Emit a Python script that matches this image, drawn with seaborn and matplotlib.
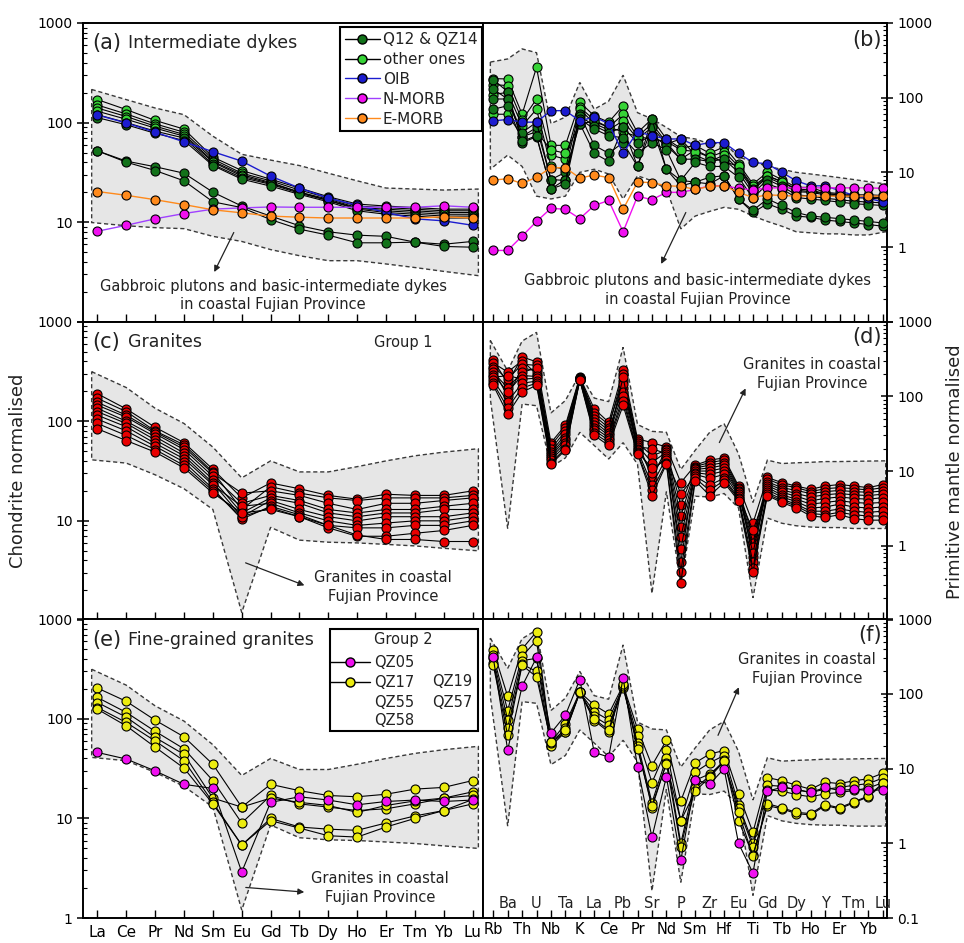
import matplotlib
matplotlib.use("Agg")
import matplotlib.pyplot as plt
import matplotlib.transforms as mtransforms
import numpy as np
import pandas as pd
import seaborn as sns
from matplotlib.lines import Line2D
from matplotlib.patches import Rectangle
from matplotlib.ticker import FixedFormatter, FixedLocator, LogLocator, NullFormatter

sns.set_theme(style="ticks")
plt.rcParams["font.family"] = ["DejaVu Sans"]
plt.rcParams["axes.edgecolor"] = "black"
plt.rcParams["xtick.color"] = "black"
plt.rcParams["ytick.color"] = "black"
plt.rcParams["text.color"] = "#222222"

# elements on the x axes
REE = ["La", "Ce", "Pr", "Nd", "Sm", "Eu", "Gd", "Tb", "Dy", "Ho", "Er", "Tm", "Yb", "Lu"]
SPIDER = ["Rb", "Ba", "Th", "U", "Nb", "Ta", "K", "La", "Ce", "Pb", "Pr", "Sr", "Nd", "P",
          "Sm", "Zr", "Hf", "Eu", "Ti", "Gd", "Tb", "Dy", "Ho", "Y", "Er", "Tm", "Yb", "Lu"]

# reference basalts (chondrite / primitive mantle normalised)
OIB_REE = [119, 99, 80, 64, 51, 41, 29, 22, 17.4, 14.8, 12.5, 10.8, 10.3, 9.3]
NMORB_REE = [8.1, 9.3, 10.8, 12.2, 13.5, 13.9, 14.2, 14.1, 14.1, 14.1, 14.1, 14.1, 14.6, 14.1]
EMORB_REE = [20.3, 18.6, 16.8, 15.0, 13.3, 12.4, 11.5, 11.2, 11.0, 11.0, 11.0, 11.0, 11.3, 11.0]
OIB_PM = [49, 51, 47, 47, 67, 67, 49, 55, 45, 18, 35, 31, 28, 28, 23, 25, 25, 18, 13.6, 13,
          10, 7.7, 6.6, 6.6, 5.7, 4.9, 4.5, 4.0]
NMORB_PM = [0.9, 0.9, 1.4, 2.2, 3.3, 3.2, 2.4, 3.6, 4.2, 1.6, 4.8, 4.3, 5.4, 5.4, 5.9, 6.6,
            6.6, 6.1, 5.8, 6.2, 6.2, 6.2, 6.2, 6.2, 6.2, 6.2, 6.2, 6.1]
EMORB_PM = [7.9, 8.2, 7.1, 8.6, 11.6, 11.5, 8.4, 9.2, 8.5, 3.2, 7.4, 7.3, 6.6, 6.5, 5.9, 6.5,
            6.6, 5.4, 4.6, 5.0, 4.9, 4.8, 4.8, 4.8, 4.8, 4.8, 4.8, 4.8]

# fields (upper / lower bounds)
GABBRO_REE_UP = [215, 170, 140, 120, 73, 48, 42, 37, 31, 26, 22, 21.5, 21, 21.5]
GABBRO_REE_LO = [9.9, 9.2, 8.8, 8.6, 7.2, 6.4, 5.3, 4.6, 4.1, 4.1, 3.8, 3.5, 3.2, 2.9]
GABBRO_PM_UP = [300, 330, 450, 400, 45, 55, 160, 70, 90, 200, 63, 52, 40, 30, 28, 24, 25, 16,
                14, 12, 11, 10, 9.5, 9, 8.5, 8, 7.5, 7.0]
GABBRO_PM_LO = [11, 17, 12, 4.8, 4.4, 4.8, 10, 11, 9.5, 4.4, 9, 7.7, 6, 1.75, 2.6, 3.0, 3.4,
                3.2, 2.6, 2.2, 1.9, 1.6, 1.55, 1.5, 1.5, 1.45, 1.45, 1.6]
GRANITE_REE_UP = [315, 218, 135, 95, 55, 27, 40, 31, 31, 35, 40, 45, 49, 53]
GRANITE_REE_LO = [41, 38, 29, 21, 13, 1.2, 8.6, 6.4, 6.1, 6.0, 5.8, 5.6, 5.3, 5.0]
GRANITE_PM_UP = [560, 220, 550, 720, 60, 88, 200, 95, 85, 455, 42, 34, 33, 10.5, 19, 33, 43,
                 17, 3.8, 14, 12.6, 12.9, 13.1, 13.4, 13.4, 13.5, 13.6, 13.7]
GRANITE_PM_LO = [92, 1.7, 79, 75, 11.3, 15, 33, 22, 14.5, 24, 12.3, 0.23, 5.3, 0.3, 4.6, 4.5,
                 5, 3.2, 0.2, 2.35, 2.0, 1.85, 1.78, 1.75, 1.75, 1.7, 1.7, 1.7]

# (a)/(b) intermediate dykes
DYKE_Q_REE = {
    "Q1": [52, 41, 36, 31, 20, 14.5, 11.5, 9.2, 8.0, 7.4, 7.2, 6.3, 6.0, 6.4],
    "Q2": [52, 40, 33, 26, 16, 14, 10.6, 8.5, 7.4, 6.2, 6.2, 6.3, 5.7, 5.6],
    "Q3": [120, 100, 82, 70, 38, 28, 24, 19.5, 16.5, 13.5, 12.5, 12, 11.5, 11.5],
    "Q4": [112, 95, 78, 66, 37, 27, 23, 19, 16, 13, 12, 11.5, 11, 11],
}
DYKE_O_REE = {
    "O1": [170, 135, 105, 86, 45, 33, 27, 22, 18, 15.2, 14.5, 14, 13.5, 13.5],
    "O2": [150, 122, 97, 80, 43, 31, 26, 21, 17.5, 14.5, 14, 13.5, 13, 13],
    "O3": [140, 115, 92, 76, 41, 30, 25, 20, 17, 14, 13.5, 13, 12.5, 12.5],
    "O4": [130, 108, 88, 73, 40, 29, 24.5, 20, 16.5, 13.8, 13, 12.5, 12, 12],
}
DYKE_Q_PM = {
    "Q1": [175, 120, 25, 30, 6, 8, 60, 23, 18, 25, 12, 40, 11, 6.6, 7.4, 7, 9, 4.4, 2.9, 3.8,
           3.2, 2.6, 2.5, 2.3, 2.2, 2.1, 2.0, 1.9],
    "Q2": [130, 96, 30, 40, 8, 10, 45, 18, 14, 40, 12, 52, 11, 7.8, 7.4, 8.6, 9, 4.4, 3.1, 4.4,
           3.6, 2.9, 2.6, 2.5, 2.4, 2.3, 2.2, 2.1],
    "Q3": [96, 96, 34, 47, 8, 7.8, 57, 42, 34, 40, 25, 31, 23, 15, 15, 14, 15, 10, 5.2, 8, 6.5,
           5.0, 4.8, 4.5, 4.3, 4.1, 4.0, 3.9],
    "Q4": [70, 78, 26, 31, 6, 7, 52, 38, 31, 29, 18, 25, 20, 7.8, 13.6, 12, 12, 8.6, 4.5, 7, 6,
           4.6, 4.4, 4.2, 4.0, 3.8, 3.7, 3.6],
}
DYKE_O_PM = {
    "O1": [180, 178, 60, 255, 23, 23, 87, 57, 47, 78, 34, 52, 28, 21, 23, 18, 22, 13, 7, 10, 8,
           6.3, 6.3, 5.4, 5.2, 5.0, 5.0, 4.9],
    "O2": [150, 145, 50, 96, 17, 15, 75, 50, 40, 60, 30, 45, 25, 15, 20, 16, 19, 12, 6.5, 9, 7.5,
           6.0, 5.8, 5.2, 5.0, 4.8, 4.7, 4.6],
    "O3": [110, 118, 42, 70, 12, 11, 70, 45, 37, 49, 28, 40, 24, 28, 17, 14, 17, 11, 5.8, 8.6, 7,
           5.5, 5.4, 5.0, 4.8, 4.6, 4.5, 4.4],
    "O4": [60, 60, 30, 35, 20, 18, 45, 48, 40, 35, 30, 28, 26, 20, 19, 16, 14, 12, 6, 9, 7.5,
           5.8, 5.5, 5.2, 5.0, 4.8, 4.7, 4.6],
}

# (c)/(d) granites, group 1
GRANITE1_REE = {
    "G01": [189, 133, 87, 61, 33, 17, 24, 21, 18, 16.5, 18.5, 18, 18, 20],
    "G02": [170, 125, 80, 58, 31, 13, 22, 19, 17, 16, 17, 17, 17, 18],
    "G03": [155, 115, 78, 55, 30, 19, 20, 18, 15, 13, 15, 15, 16, 17],
    "G04": [145, 110, 75, 52, 28, 15, 18, 16, 13, 12, 13, 13, 14, 15],
    "G05": [135, 100, 70, 48, 26, 12, 17, 15, 12, 11, 12, 12, 13, 13],
    "G06": [125, 95, 65, 45, 24, 11, 16, 13, 11, 10, 11, 11, 11, 12],
    "G07": [115, 88, 60, 42, 23, 14, 15, 12, 10, 9, 9.5, 10, 10, 11],
    "G08": [105, 80, 56, 39, 21, 10.4, 14, 11.5, 9, 8.5, 8.5, 9, 9, 10],
    "G09": [95, 72, 52, 36, 20, 11, 13.5, 11, 8.5, 7, 7, 7.5, 8, 9],
    "G10": [84, 64, 49, 34, 19, 12, 13, 11, 9, 7.2, 6.5, 6.5, 6.2, 6.2],
}
GRANITE1_PM = {
    "G01": [305, 150, 338, 290, 24, 41, 182, 68, 45, 224, 27, 24, 21, 7.0, 12, 14, 15, 6.3, 2.0,
            8.2, 7.0, 6.3, 5.7, 6.3, 6.6, 6.3, 6.0, 6.6],
    "G02": [280, 212, 300, 200, 22, 38, 178, 60, 42, 160, 25, 8, 20, 0.6, 11.5, 13, 14, 6.0, 0.7,
            7.8, 6.5, 6.0, 5.3, 5.8, 6.0, 5.8, 5.6, 6.0],
    "G03": [250, 170, 270, 260, 20, 34, 176, 55, 38, 200, 24, 16, 19, 3.5, 11, 12, 13, 5.7, 1.3,
            7.2, 6.0, 5.5, 5.0, 5.3, 5.5, 5.3, 5.2, 5.4],
    "G04": [230, 100, 240, 220, 18, 31, 175, 50, 35, 130, 22, 13, 18, 2.5, 10.5, 11, 12, 5.4, 1.1,
            6.8, 5.6, 5.0, 4.5, 4.8, 5.0, 4.8, 4.7, 4.9],
    "G05": [210, 130, 210, 240, 17, 28, 174, 46, 32, 145, 21, 20, 17, 1.8, 10, 10, 11, 5.2, 0.95,
            6.4, 5.2, 4.6, 4.0, 4.3, 4.5, 4.3, 4.2, 4.4],
    "G06": [195, 115, 190, 185, 16, 26, 172, 42, 30, 115, 20, 9.5, 16, 1.3, 9.5, 9, 10, 5.0, 0.8,
            6.0, 4.8, 4.2, 3.6, 3.8, 4.0, 3.8, 3.7, 3.8],
    "G07": [180, 190, 170, 175, 15, 24, 170, 38, 28, 180, 19, 6.5, 15, 0.9, 9, 8, 9, 4.7, 1.6,
            5.6, 4.5, 3.9, 3.2, 3.3, 3.6, 3.3, 3.2, 3.3],
    "G08": [165, 85, 150, 160, 14, 22, 168, 35, 26, 100, 18, 11, 14, 5.0, 8.5, 6.5, 8, 4.4, 0.6,
            5.2, 4.2, 3.6, 2.9, 2.9, 3.1, 2.9, 2.8, 2.9],
    "G09": [150, 70, 130, 150, 13, 20, 166, 32, 24, 88, 17.5, 5.5, 13, 0.45, 8, 5.5, 7.5, 4.2, 0.5,
            4.9, 4.0, 3.4, 2.7, 2.6, 2.8, 2.6, 2.5, 2.5],
    "G10": [141, 58, 114, 141, 12.4, 19, 164, 30, 22, 76, 17, 4.7, 12.4, 0.32, 7.4, 4.7, 7.0, 4.0,
            0.44, 4.7, 3.8, 3.2, 2.5, 2.4, 2.6, 2.3, 2.2, 2.2],
}

# (e)/(f) fine-grained granites, group 2
QZ05_REE = {"QZ05": [46, 39.5, 30, 22, 20, 2.9, 14.5, 16.5, 15.3, 13.7, 14.8, 15.3, 14.8, 15.3]}
GROUP2_REE = {
    "QZ17": [204, 150, 97, 66, 35, 13, 22, 19, 17, 16.5, 17.5, 19.7, 20.5, 24],
    "QZ19": [164, 116, 75, 50, 24, 9, 17, 14, 13, 12, 12.5, 14, 16, 18.5],
    "QZ55": [146, 104, 65, 44, 16, 13, 16, 14.5, 13.5, 11.5, 13.5, 15, 16, 17],
    "QZ57": [130, 92, 60, 38, 14.5, 5.4, 10, 8.2, 7.8, 7.6, 9, 10.6, 12, 15.5],
    "QZ58": [125, 85, 52, 32, 14, 5.4, 9.5, 8, 6.7, 6.5, 8.2, 10, 12, 14],
}
QZ05_PM = {"QZ05": [308, 17.8, 127, 308, 30, 52, 156, 16.5, 14.3, 164, 10.6, 1.2, 7.8, 0.59,
                    7.1, 6.2, 10, 1.0, 0.4, 5, 5.6, 5.3, 4.8, 5.6, 5.1, 5.3, 5.1, 5.2]}
GROUP2_PM = {
    "QZ17": [387, 93, 400, 683, 22.6, 40, 106, 71, 54, 131, 34, 11, 24, 3.7, 12, 15.7, 17.5, 4.6,
             1.4, 7.6, 6.9, 6.0, 5.3, 6.6, 6.3, 6.9, 7.3, 8.7],
    "QZ19": [330, 60, 320, 520, 21, 35, 105, 58, 45, 125, 27, 6.5, 18, 2.0, 9, 12, 15, 3.3, 1.0,
             6.0, 5.8, 5.2, 4.8, 5.3, 5.6, 6.0, 6.3, 7.5],
    "QZ55": [300, 45, 280, 300, 20, 31, 104, 50, 38, 120, 22, 3.5, 14, 1.0, 7, 8.5, 12.2, 3.0,
             0.9, 5.2, 5.0, 4.5, 4.2, 4.6, 4.8, 5.1, 5.5, 6.5],
    "QZ57": [260, 35, 250, 200, 22, 31, 106, 44, 31, 128, 20, 3.0, 12, 0.9, 5.5, 8, 13, 2.0, 0.7,
             3.2, 2.9, 2.5, 2.4, 3.2, 2.9, 3.5, 4.2, 6.2],
    "QZ58": [243, 28, 243, 169, 23, 33, 107, 46, 33, 135, 18.5, 3.2, 11.6, 2.0, 5, 7.7, 12.5, 2.6,
             0.67, 3.4, 3.0, 2.6, 2.5, 3.3, 3.0, 3.6, 4.3, 6.4],
}

DARK_GREEN = "#12721a"
LIGHT_GREEN = "#36d336"
BLUE = "#1c1ccf"
MAGENTA = "#f010f0"
VIOLET = "#a040ff"
ORANGE = "#ff8a1c"
RED = "#e80000"
YELLOW = "#ecec10"
FIELD_PAD = 0.2


def long_table(samples):
    rows = []
    for name, vals in samples.items():
        for i, v in enumerate(vals):
            rows.append({"sample": name, "pos": i, "value": v})
    return pd.DataFrame(rows)


def draw_series(ax, samples, face, line_color="black", lw=0.8, ms=6.5, z=3):
    df = long_table(samples)
    sns.lineplot(data=df, x="pos", y="value", units="sample", estimator=None, sort=False,
                 color=line_color, linewidth=lw, marker="o", markersize=ms,
                 markerfacecolor=face, markeredgecolor="black", markeredgewidth=0.8,
                 legend=False, ax=ax, zorder=z)
    ax.set_xlabel("")
    ax.set_ylabel("")


def draw_field(ax, upper, lower):
    x = np.arange(len(upper), dtype=float)
    x[0] -= FIELD_PAD
    x[-1] += FIELD_PAD
    xs = np.concatenate([x, x[::-1]])
    ys = np.concatenate([upper, lower[::-1]])
    ax.fill(xs, ys, facecolor="#e6e6e6", edgecolor="#3a3a3a", linestyle=(0, (3, 2)),
            linewidth=1.0, zorder=1)


def setup_axes(ax, right, bottom_labels):
    ax.set_yscale("log")
    if right:
        ax.set_xlim(-0.71, 27.29)
        ax.set_ylim(0.1, 1000)
        ticks = [0.1, 1, 10, 100, 1000]
        labels = ["0.1" if bottom_labels else "", "1", "10", "100", "1000"]
        ax.yaxis.tick_right()
        n = len(SPIDER)
    else:
        ax.set_xlim(-0.5, 13.36)
        ax.set_ylim(1, 1000)
        ticks = [1, 10, 100, 1000]
        labels = ["1" if bottom_labels else "", "10", "100", "1000"]
        n = len(REE)
    ax.yaxis.set_major_locator(FixedLocator(ticks))
    ax.yaxis.set_major_formatter(FixedFormatter(labels))
    ax.yaxis.set_minor_locator(LogLocator(base=10, subs=np.arange(2, 10)))
    ax.yaxis.set_minor_formatter(NullFormatter())
    ax.tick_params(axis="y", which="major", direction="inout", length=9, width=1.1,
                   labelsize=10, pad=3)
    ax.tick_params(axis="y", which="minor", direction="in", length=3, width=0.8)
    ax.xaxis.set_major_locator(FixedLocator(range(n)))
    ax.tick_params(axis="x", which="major", direction="in", length=6, width=1.0,
                   bottom=True, top=False, labelbottom=bottom_labels, labelsize=10.5)
    ax.xaxis.set_minor_locator(FixedLocator([]))
    for s in ax.spines.values():
        s.set_linewidth(1.4)
        s.set_color("black")
    if bottom_labels:
        if right:
            ax.set_xticklabels([el if i % 2 == 0 else "" for i, el in enumerate(SPIDER)])
            ax.tick_params(axis="x", pad=3)
            trans = mtransforms.blended_transform_factory(ax.transData, ax.transAxes)
            for i in range(1, n, 2):
                ax.text(i, 0.035, SPIDER[i], transform=trans, ha="center", va="baseline",
                        fontsize=10.5)
        else:
            ax.set_xticklabels(REE)
            ax.tick_params(axis="x", pad=5, labelsize=11)


def frame(x0, y0, w, h):
    return [x0 / 964, 1 - (y0 + h) / 943, w / 964, h / 943]


def note(ax, text, pos, tail, head):
    ax.text(pos[0], pos[1], text, transform=ax.transAxes, ha="center", va="center",
            fontsize=10.5, linespacing=1.3)
    ax.annotate("", xy=head, xytext=tail, xycoords="axes fraction",
                arrowprops=dict(arrowstyle="-|>", color="#222222", lw=0.9, mutation_scale=9))


def title(ax, letter, text):
    ax.text(0.022, 0.932, letter, transform=ax.transAxes, fontsize=15, va="center", ha="left")
    ax.text(0.112, 0.932, text, transform=ax.transAxes, fontsize=12.5, va="center", ha="left")


fig = plt.figure(figsize=(9.64, 9.43), dpi=100)
ROW_TOPS = [23, 321.7, 619.3]
ROW_H = 298.7
axes = {}
for r, top in enumerate(ROW_TOPS):
    axes[(r, 0)] = fig.add_axes(frame(83, top, 400, ROW_H))
    axes[(r, 1)] = fig.add_axes(frame(483, top, 404, ROW_H))

for (r, c), ax in axes.items():
    setup_axes(ax, right=(c == 1), bottom_labels=(r == 2))

# (a) intermediate dykes, REE
ax = axes[(0, 0)]
draw_field(ax, GABBRO_REE_UP, GABBRO_REE_LO)
draw_series(ax, DYKE_O_REE, LIGHT_GREEN)
draw_series(ax, DYKE_Q_REE, DARK_GREEN)
draw_series(ax, {"OIB": OIB_REE}, BLUE, line_color=BLUE, lw=1.0, z=4)
draw_series(ax, {"N-MORB": NMORB_REE}, MAGENTA, line_color=VIOLET, lw=1.0, z=4)
draw_series(ax, {"E-MORB": EMORB_REE}, ORANGE, line_color=ORANGE, lw=1.0, z=4)
title(ax, "(a)", "Intermediate dykes")
note(ax, "Gabbroic plutons and basic-intermediate dykes\nin coastal Fujian Province",
     (0.475, 0.088), (0.38, 0.307), (0.325, 0.158))
handles = [
    Line2D([], [], color="black", lw=1, marker="o", ms=6.5, mfc=DARK_GREEN, mec="black"),
    Line2D([], [], color="black", lw=1, marker="o", ms=6.5, mfc=LIGHT_GREEN, mec="black"),
    Line2D([], [], color=BLUE, lw=1, marker="o", ms=6.5, mfc=BLUE, mec="black"),
    Line2D([], [], color=VIOLET, lw=1, marker="o", ms=6.5, mfc=MAGENTA, mec="black"),
    Line2D([], [], color=ORANGE, lw=1, marker="o", ms=6.5, mfc=ORANGE, mec="black"),
]
leg = ax.legend(handles, ["Q12 & QZ14", "other ones", "OIB", "N-MORB", "E-MORB"],
                loc="upper right", bbox_to_anchor=(0.998, 0.985), frameon=True, fancybox=False,
                edgecolor="black", framealpha=1, fontsize=11, handlelength=2.3,
                handletextpad=0.2, labelspacing=0.32, borderpad=0.3, borderaxespad=0)
leg.get_frame().set_linewidth(1.5)

# (b) intermediate dykes, spider
ax = axes[(0, 1)]
draw_field(ax, GABBRO_PM_UP, GABBRO_PM_LO)
draw_series(ax, DYKE_O_PM, LIGHT_GREEN)
draw_series(ax, DYKE_Q_PM, DARK_GREEN)
draw_series(ax, {"OIB": OIB_PM}, BLUE, line_color=BLUE, lw=1.0, z=4)
draw_series(ax, {"N-MORB": NMORB_PM}, MAGENTA, line_color=MAGENTA, lw=1.0, z=4)
draw_series(ax, {"E-MORB": EMORB_PM}, ORANGE, line_color=ORANGE, lw=1.0, z=4)
ax.text(0.988, 0.943, "(b)", transform=ax.transAxes, fontsize=15, ha="right", va="center")
note(ax, "Gabbroic plutons and basic-intermediate dykes\nin coastal Fujian Province",
     (0.532, 0.106), (0.505, 0.374), (0.438, 0.185))

# (c) granites group 1, REE
ax = axes[(1, 0)]
draw_field(ax, GRANITE_REE_UP, GRANITE_REE_LO)
draw_series(ax, GRANITE1_REE, RED)
title(ax, "(c)", "Granites")
ax.text(0.8, 0.932, "Group 1", transform=ax.transAxes, fontsize=10.5, ha="center", va="center")
note(ax, "Granites in coastal\nFujian Province", (0.75, 0.112), (0.40, 0.196), (0.56, 0.114))

# (d) granites group 1, spider
ax = axes[(1, 1)]
draw_field(ax, GRANITE_PM_UP, GRANITE_PM_LO)
draw_series(ax, GRANITE1_PM, RED)
ax.text(0.988, 0.949, "(d)", transform=ax.transAxes, fontsize=15, ha="right", va="center")
note(ax, "Granites in coastal\nFujian Province", (0.814, 0.825), (0.582, 0.587), (0.653, 0.785))

# (e) fine-grained granites, REE
ax = axes[(2, 0)]
draw_field(ax, GRANITE_REE_UP, GRANITE_REE_LO)
draw_series(ax, GROUP2_REE, YELLOW)
draw_series(ax, QZ05_REE, MAGENTA, z=4)
title(ax, "(e)", "Fine-grained granites")
note(ax, "Granites in coastal\nFujian Province", (0.7425, 0.100), (0.40, 0.103), (0.56, 0.086))
ax.add_patch(Rectangle((0.6175, 0.625), 0.37, 0.3415, transform=ax.transAxes, fill=True,
                       facecolor="white", edgecolor="black", linewidth=1.5, zorder=6))
ax.text(0.80, 0.934, "Group 2", transform=ax.transAxes, fontsize=10.5, ha="center",
        va="center", zorder=7)
for face, fy, lab in [(MAGENTA, 0.856, "QZ05"), (YELLOW, 0.789, "QZ17")]:
    ax.add_line(Line2D([0.6175, 0.7175], [fy, fy], transform=ax.transAxes, color="black",
                       lw=1, zorder=7))
    ax.add_line(Line2D([0.6675], [fy], transform=ax.transAxes, marker="o", ms=6.5, mfc=face,
                       mec="black", lw=0, zorder=8))
    ax.text(0.727, fy, lab, transform=ax.transAxes, fontsize=10.5, va="center", zorder=7)
for fx, fy, lab in [(0.727, 0.722, "QZ55"), (0.727, 0.662, "QZ58"),
                    (0.872, 0.792, "QZ19"), (0.872, 0.722, "QZ57")]:
    ax.text(fx, fy, lab, transform=ax.transAxes, fontsize=10.5, va="center", zorder=7)

# (f) fine-grained granites, spider
ax = axes[(2, 1)]
draw_field(ax, GRANITE_PM_UP, GRANITE_PM_LO)
draw_series(ax, GROUP2_PM, YELLOW)
draw_series(ax, QZ05_PM, MAGENTA, z=4)
ax.text(0.988, 0.947, "(f)", transform=ax.transAxes, fontsize=15, ha="right", va="center")
note(ax, "Granites in coastal\nFujian Province", (0.802, 0.834), (0.579, 0.603), (0.636, 0.781))

fig.text(0.019, 0.5005, "Chondrite normalised", rotation=90, ha="center", va="center",
         fontsize=13)
fig.text(0.9907, 0.4995, "Primitive mantle normalised", rotation=90, ha="center",
         va="center", fontsize=13)

fig.savefig("out.png", dpi=100)
